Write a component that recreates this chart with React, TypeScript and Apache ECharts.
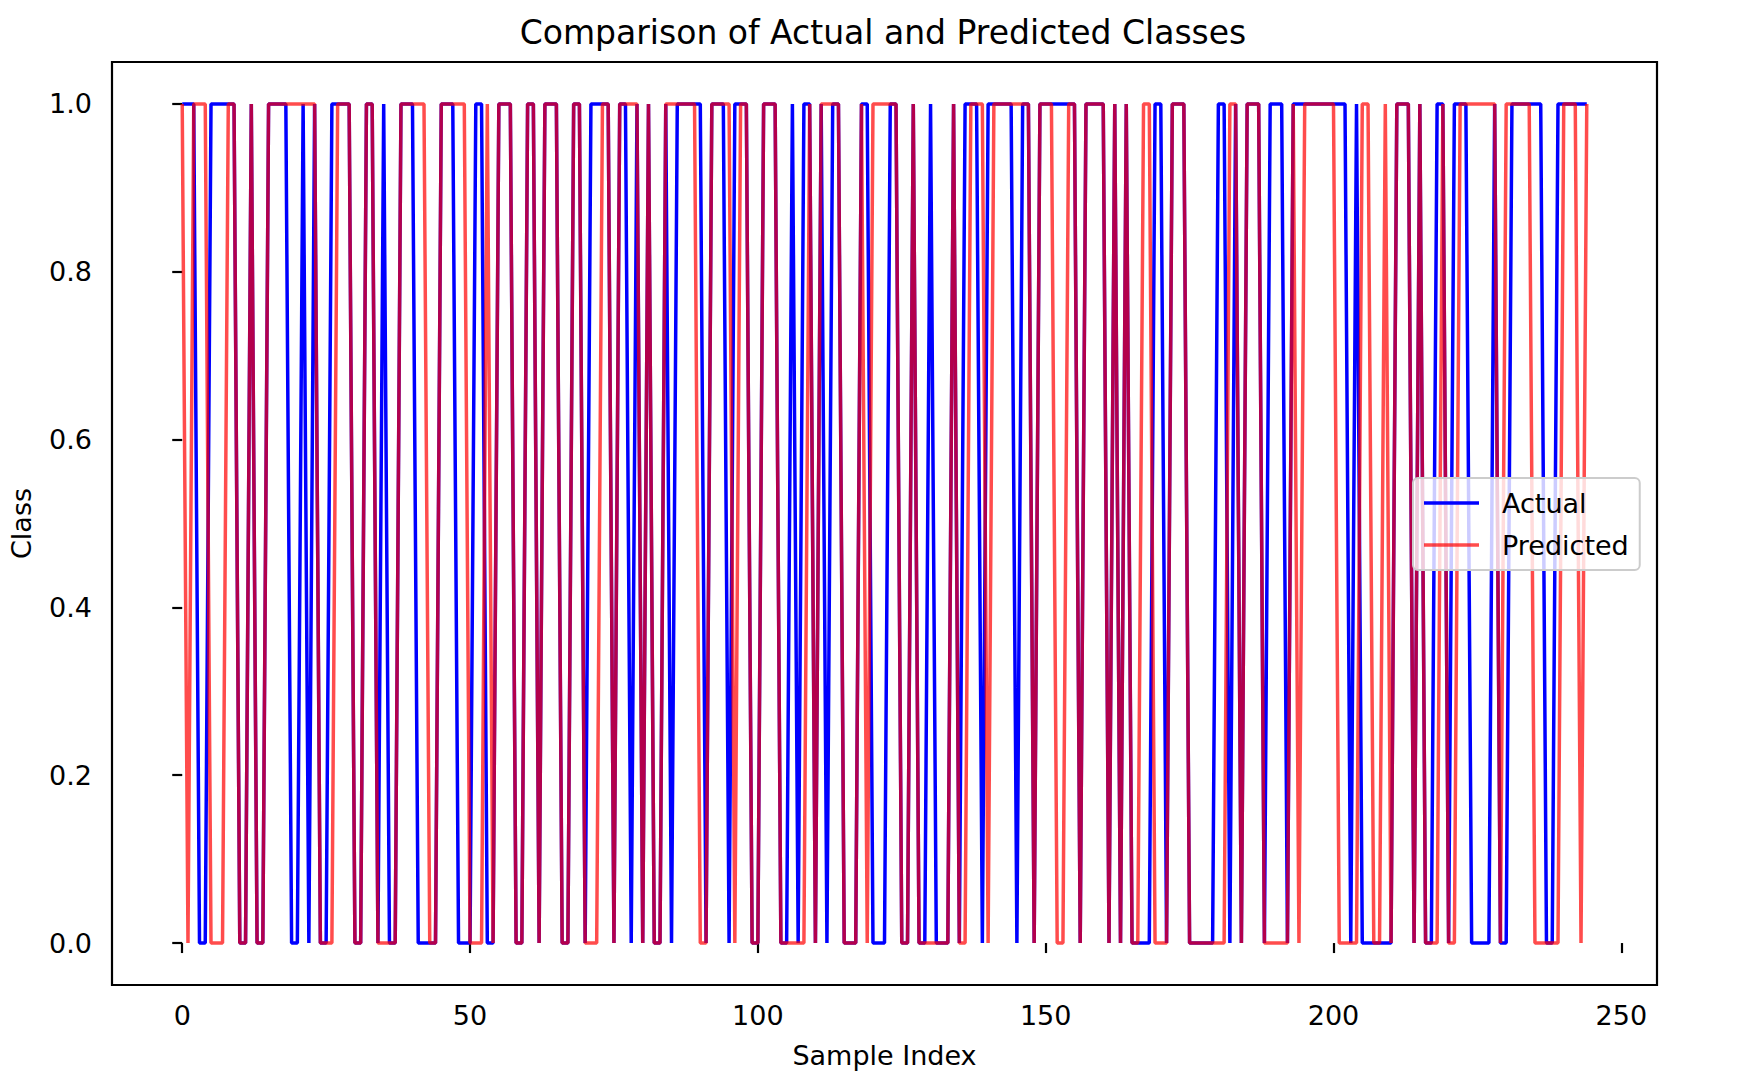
import React, { useEffect, useRef } from 'react'
import * as echarts from 'echarts'

// actual class of each sample (index 0..244)
const actualClass = [
  1, 1, 1, 0, 0, 1, 1, 1, 1, 1,
  0, 0, 1, 0, 0, 1, 1, 1, 1, 0,
  0, 1, 0, 1, 0, 0, 1, 1, 1, 1,
  0, 0, 1, 1, 0, 1, 0, 0, 1, 1,
  1, 0, 0, 0, 0, 1, 1, 1, 0, 0,
  0, 1, 1, 0, 0, 1, 1, 1, 0, 0,
  1, 1, 0, 1, 1, 1, 0, 0, 1, 1,
  0, 1, 1, 1, 1, 0, 1, 1, 0, 1,
  0, 1, 0, 0, 1, 0, 1, 1, 1, 1,
  1, 0, 1, 1, 1, 0, 1, 1, 1, 0,
  0, 1, 1, 1, 0, 0, 1, 0, 1, 1,
  0, 1, 0, 1, 1, 0, 0, 0, 1, 1,
  0, 0, 0, 1, 1, 0, 0, 1, 0, 0,
  1, 0, 0, 0, 1, 0, 1, 1, 1, 0,
  1, 1, 1, 1, 1, 0, 1, 1, 0, 1,
  1, 1, 1, 1, 1, 1, 0, 1, 1, 1,
  1, 0, 1, 0, 1, 0, 0, 0, 0, 1,
  1, 0, 1, 1, 1, 0, 0, 0, 0, 0,
  1, 1, 0, 1, 0, 1, 1, 1, 0, 1,
  1, 1, 0, 1, 1, 1, 1, 1, 1, 1,
  1, 1, 1, 0, 1, 0, 0, 0, 0, 0,
  0, 1, 1, 1, 0, 1, 0, 0, 1, 1,
  0, 1, 1, 1, 0, 0, 0, 0, 1, 0,
  0, 1, 1, 1, 1, 1, 1, 0, 0, 1,
  1, 1, 1, 1, 1,
]

// predicted class of each sample
const predictedClass = [
  1, 0, 1, 1, 1, 0, 0, 0, 1, 1,
  0, 0, 1, 0, 0, 1, 1, 1, 1, 1,
  1, 1, 1, 1, 0, 0, 0, 1, 1, 1,
  0, 0, 1, 1, 0, 0, 0, 0, 1, 1,
  1, 1, 1, 0, 0, 1, 1, 1, 1, 1,
  0, 0, 0, 1, 0, 1, 1, 1, 0, 0,
  1, 1, 0, 1, 1, 1, 0, 0, 1, 1,
  0, 0, 0, 1, 1, 0, 1, 1, 1, 1,
  0, 1, 0, 0, 1, 1, 1, 1, 1, 1,
  0, 0, 1, 1, 1, 1, 0, 1, 1, 0,
  0, 1, 1, 1, 0, 0, 0, 0, 0, 1,
  0, 1, 1, 1, 1, 0, 0, 0, 1, 0,
  1, 1, 1, 1, 1, 0, 0, 1, 0, 0,
  0, 0, 0, 0, 1, 0, 0, 1, 1, 1,
  0, 1, 1, 1, 1, 1, 1, 1, 0, 1,
  1, 1, 0, 0, 1, 1, 0, 1, 1, 1,
  1, 0, 1, 0, 1, 0, 0, 1, 1, 0,
  0, 0, 1, 1, 1, 0, 0, 0, 0, 0,
  0, 0, 1, 1, 0, 1, 1, 1, 0, 0,
  0, 0, 0, 1, 0, 1, 1, 1, 1, 1,
  1, 0, 0, 0, 0, 1, 1, 0, 0, 1,
  0, 1, 1, 1, 0, 1, 0, 0, 0, 1,
  0, 0, 1, 1, 1, 1, 1, 1, 1, 0,
  1, 1, 1, 1, 1, 0, 0, 0, 0, 0,
  1, 1, 1, 0, 1,
]

const xTicks = [0, 50, 100, 150, 200, 250]
const yTicks = [0, 0.2, 0.4, 0.6, 0.8, 1.0]

const FONT = 'DejaVu Sans'

export default function App() {
  const chartRef = useRef<HTMLDivElement | null>(null)

  useEffect(() => {
    if (!chartRef.current) return
    const chart = echarts.init(chartRef.current, null, { renderer: 'svg' })

    const axisText = { fontFamily: FONT, fontSize: 27, color: '#000' }

    chart.setOption({
      animation: false,
      title: {
        text: 'Comparison of Actual and Predicted Classes',
        left: 883,
        top: 16,
        padding: 0,
        textAlign: 'center',
        textStyle: { fontFamily: FONT, fontSize: 33, fontWeight: 'normal', color: '#000' },
      },
      legend: {
        data: [
          { name: 'Actual', icon: 'rect' },
          { name: 'Predicted', icon: 'rect', itemStyle: { opacity: 0.7 } },
        ],
        orient: 'vertical',
        left: 1413,
        top: 478,
        padding: [11, 11, 11, 11],
        itemWidth: 55,
        itemHeight: 3.5,
        itemGap: 14,
        backgroundColor: 'rgba(255,255,255,0.8)',
        borderColor: '#cccccc',
        borderWidth: 2,
        borderRadius: 5,
        textStyle: {
          fontFamily: FONT,
          fontSize: 27,
          lineHeight: 28,
          color: '#000',
          padding: [0, 0, 0, 18],
        },
      },
      grid: {
        left: 110,
        right: 81,
        top: 62,
        bottom: 105,
        show: true,
        borderColor: '#000',
        borderWidth: 2.2,
        backgroundColor: 'transparent',
      },
      xAxis: {
        type: 'value',
        min: -12.2,
        max: 256.2,
        name: 'Sample Index',
        nameLocation: 'middle',
        nameGap: 57,
        nameTextStyle: axisText,
        axisLine: { show: false },
        splitLine: { show: false },
        axisTick: {
          show: true,
          length: 10,
          customValues: xTicks,
          lineStyle: { color: '#000', width: 2.2 },
        },
        axisLabel: {
          ...axisText,
          margin: 17,
          customValues: xTicks,
          formatter: (v: number) => String(v),
        },
      },
      yAxis: {
        type: 'value',
        min: -0.05,
        max: 1.05,
        name: 'Class',
        nameLocation: 'middle',
        nameGap: 77,
        nameTextStyle: axisText,
        axisLine: { show: false },
        splitLine: { show: false },
        axisTick: {
          show: true,
          length: 10,
          customValues: yTicks,
          lineStyle: { color: '#000', width: 2.2 },
        },
        axisLabel: {
          ...axisText,
          margin: 20,
          customValues: yTicks,
          formatter: (v: number) => v.toFixed(1),
        },
      },
      series: [
        {
          name: 'Actual',
          type: 'line',
          data: actualClass.map((v, i) => [i, v]),
          symbol: 'none',
          showSymbol: false,
          color: '#0000ff',
          lineStyle: { color: '#0000ff', width: 3.5 },
        },
        {
          name: 'Predicted',
          type: 'line',
          data: predictedClass.map((v, i) => [i, v]),
          symbol: 'none',
          showSymbol: false,
          color: '#ff0000',
          lineStyle: { color: '#ff0000', width: 3.5, opacity: 0.7 },
        },
      ],
    })

    return () => {
      chart.dispose()
    }
  }, [])

  return (
    <div
      ref={chartRef}
      style={{ position: 'fixed', left: 0, top: 0, width: 1738, height: 1090, background: '#fff' }}
    />
  )
}
